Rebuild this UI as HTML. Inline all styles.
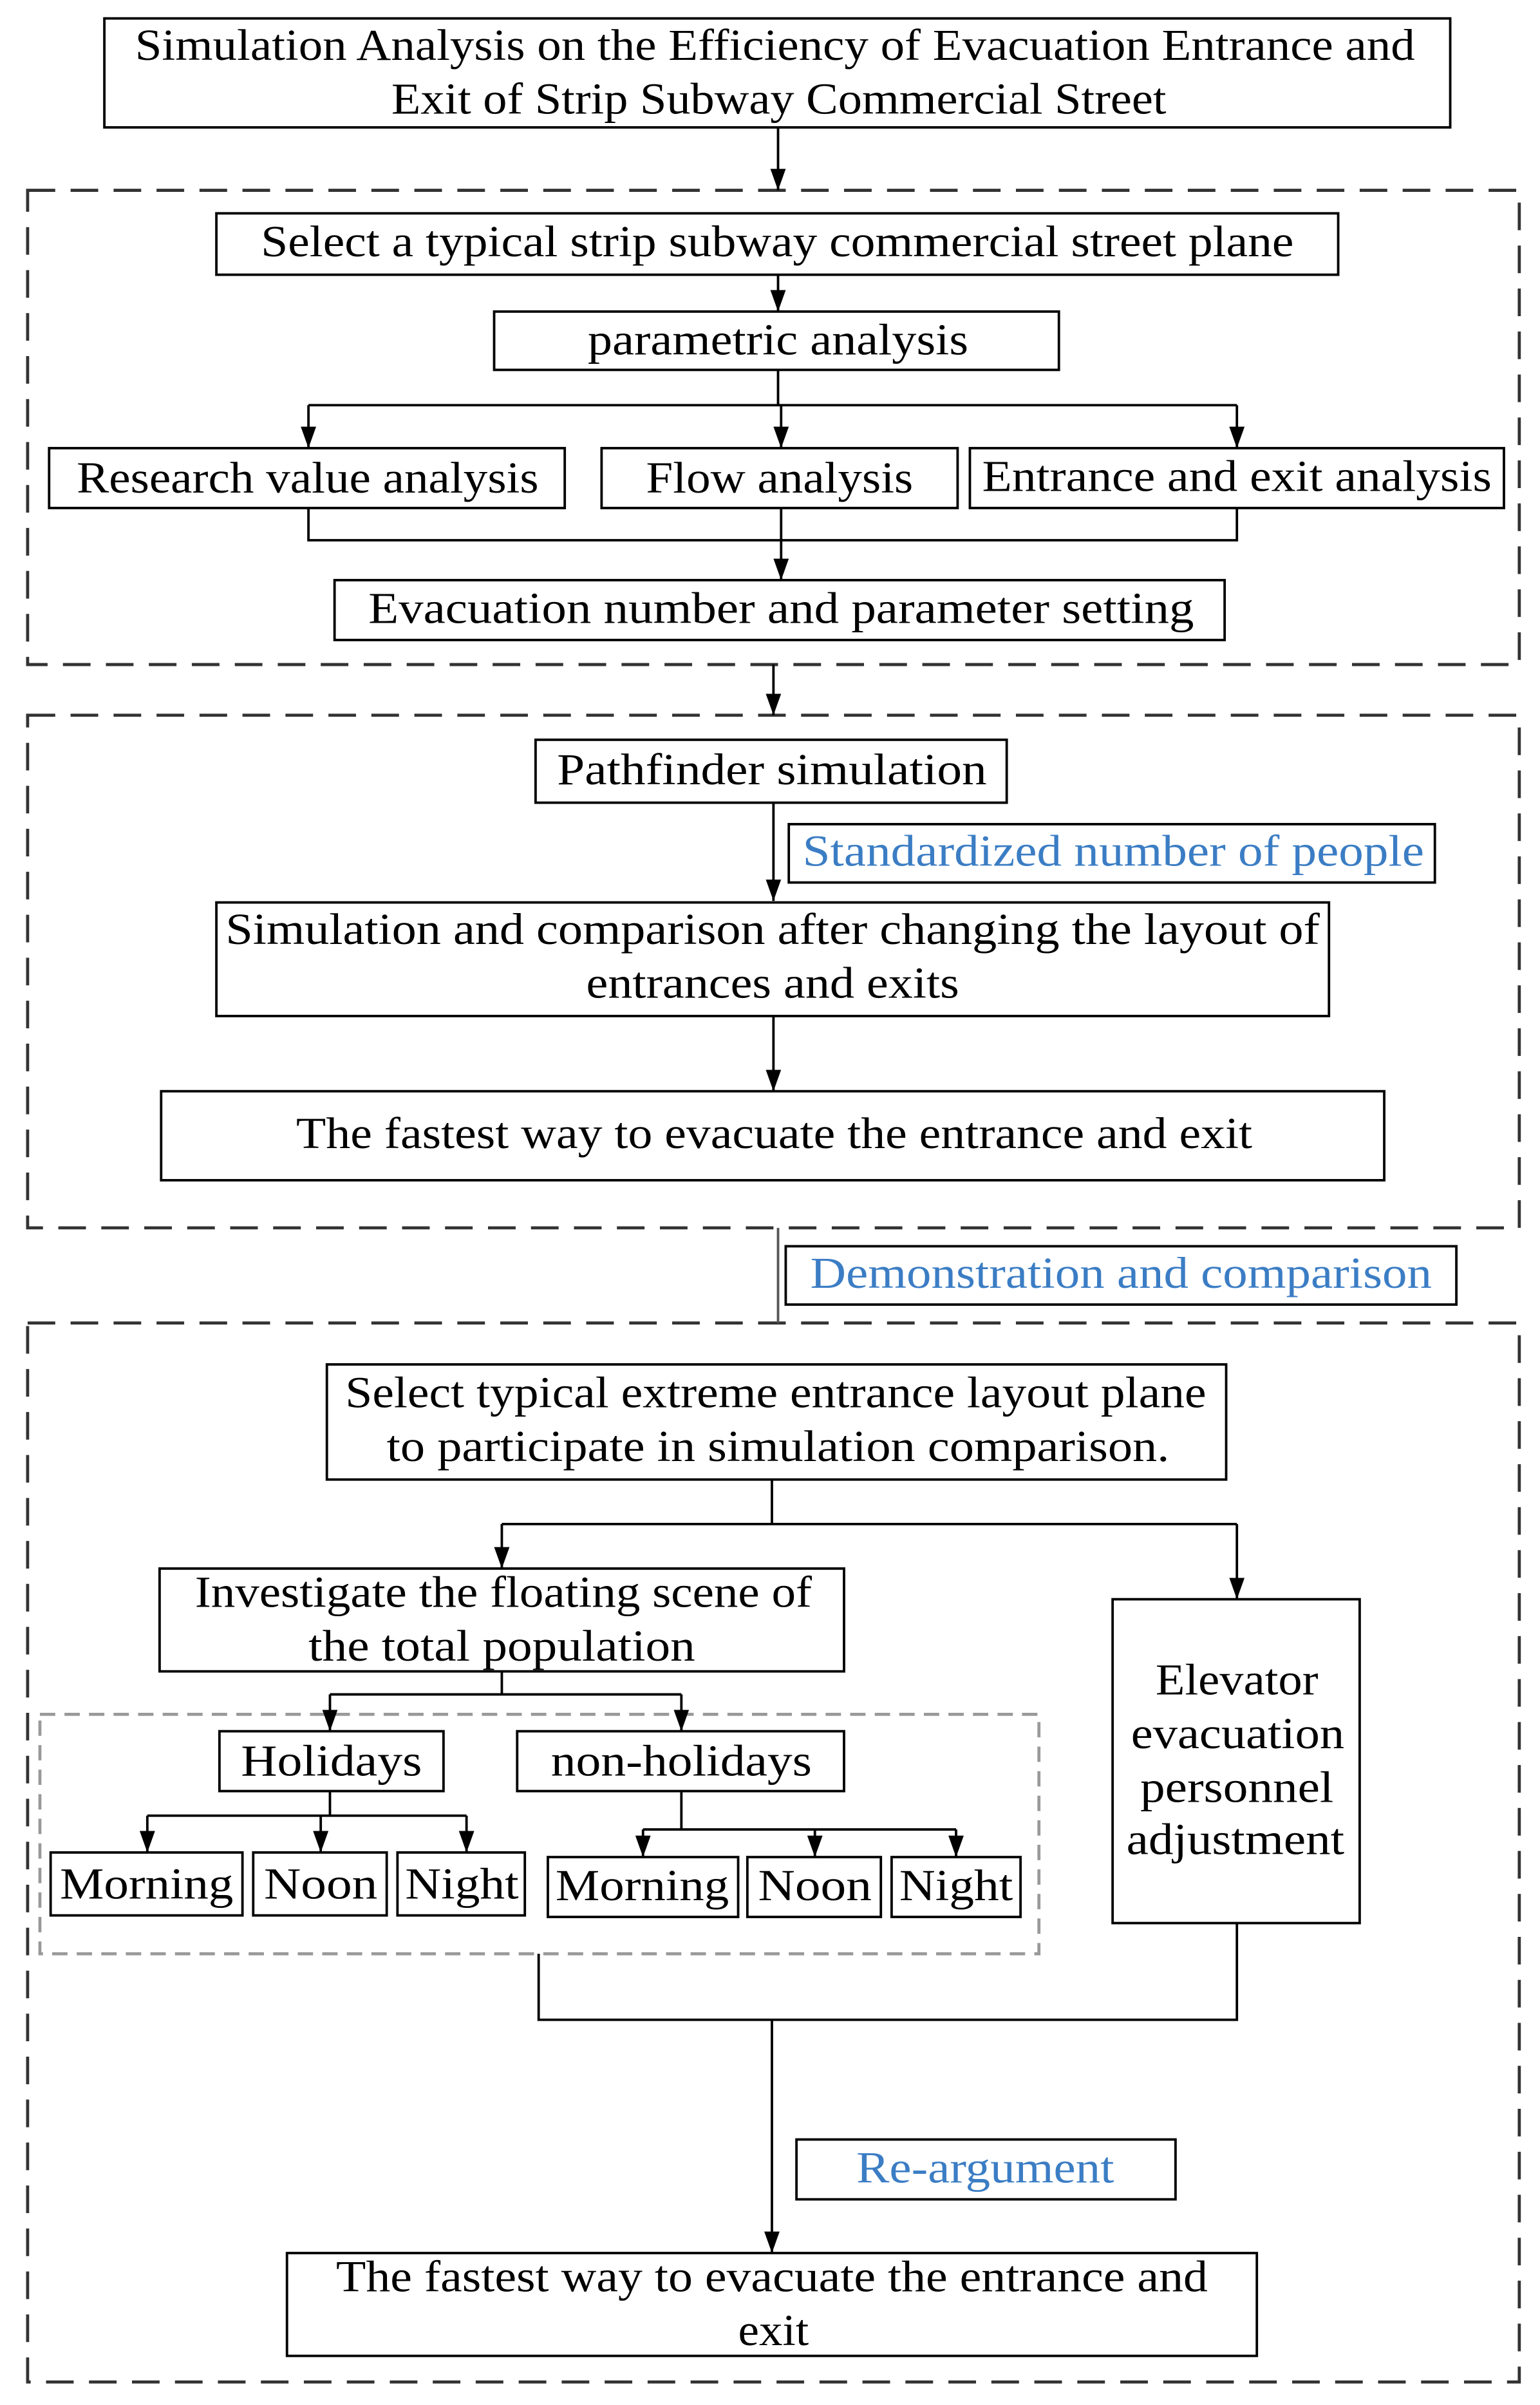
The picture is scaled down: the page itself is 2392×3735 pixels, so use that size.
<!DOCTYPE html>
<html><head><meta charset="utf-8"><style>html,body{margin:0;padding:0;background:#fff}svg{display:block}text{font-family:"Liberation Serif",serif;font-size:29px;fill:#000}.b{fill:#3b7dc4}</style></head><body>
<svg width="2392" height="3735" viewBox="0 0 1003.5 1567" preserveAspectRatio="none" xmlns="http://www.w3.org/2000/svg">
<defs>
<marker id="d" viewBox="0 0 10 14" markerWidth="10" markerHeight="14" refX="5" refY="14" orient="0" markerUnits="userSpaceOnUse"><path d="M0,0 L10,0 L5,14 z" fill="#000"/></marker></defs>
<g fill="none" stroke="#000" stroke-width="1.6">
<rect x="68" y="12" width="877" height="71"/>
<rect x="18" y="124" width="972" height="309" stroke="#333" stroke-width="2" stroke-dasharray="18,10"/>
<rect x="141" y="139" width="731" height="40"/>
<rect x="322" y="203" width="368" height="38"/>
<rect x="32" y="292" width="336" height="39"/>
<rect x="392" y="292" width="232" height="39"/>
<rect x="632" y="292" width="348" height="39"/>
<rect x="218" y="378" width="580" height="39"/>
<rect x="18" y="466" width="972" height="334" stroke="#333" stroke-width="2" stroke-dasharray="18,10"/>
<rect x="349" y="482" width="307" height="41"/>
<rect x="514" y="537" width="421" height="38"/>
<rect x="141" y="588" width="725" height="74"/>
<rect x="105" y="711" width="797" height="58"/>
<rect x="512" y="812" width="437" height="38"/>
<rect x="18" y="862" width="972" height="690" stroke="#333" stroke-width="2" stroke-dasharray="18,10"/>
<rect x="213" y="889" width="586" height="75"/>
<rect x="104" y="1022" width="446" height="67"/>
<rect x="725" y="1042" width="161" height="211"/>
<rect x="26" y="1117" width="651" height="156" stroke="#999" stroke-width="2" stroke-dasharray="10,6"/>
<rect x="143" y="1128" width="146" height="39"/>
<rect x="337" y="1128" width="213" height="39"/>
<rect x="33" y="1207" width="125" height="41"/>
<rect x="165" y="1207" width="87" height="41"/>
<rect x="259" y="1207" width="83" height="41"/>
<rect x="357" y="1210" width="124" height="39"/>
<rect x="487" y="1210" width="87" height="39"/>
<rect x="581" y="1210" width="84" height="39"/>
<rect x="519" y="1394" width="247" height="39"/>
<rect x="187" y="1468" width="632" height="67"/>
<path d="M507,83V124" marker-end="url(#d)"/>
<path d="M507,179V203" marker-end="url(#d)"/>
<path d="M507,241V264M201,264H806"/>
<path d="M201,264V292" marker-end="url(#d)"/>
<path d="M509,264V292" marker-end="url(#d)"/>
<path d="M806,264V292" marker-end="url(#d)"/>
<path d="M201,331V352H806V331"/>
<path d="M509,331V378" marker-end="url(#d)"/>
<path d="M504,433V466" marker-end="url(#d)"/>
<path d="M504,523V587" marker-end="url(#d)"/>
<path d="M504,662V711" marker-end="url(#d)"/>
<path d="M507,800V862" stroke="#555"/>
<path d="M503,964V993M327,993H806"/>
<path d="M327,993V1022" marker-end="url(#d)"/>
<path d="M806,993V1042" marker-end="url(#d)"/>
<path d="M327,1089V1104M215,1104H444"/>
<path d="M215,1104V1128" marker-end="url(#d)"/>
<path d="M444,1104V1128" marker-end="url(#d)"/>
<path d="M215,1167V1183M96,1183H304"/>
<path d="M96,1183V1207" marker-end="url(#d)"/>
<path d="M209,1183V1207" marker-end="url(#d)"/>
<path d="M304,1183V1207" marker-end="url(#d)"/>
<path d="M444,1167V1192M419,1192H623"/>
<path d="M419,1192V1210" marker-end="url(#d)"/>
<path d="M531,1192V1210" marker-end="url(#d)"/>
<path d="M623,1192V1210" marker-end="url(#d)"/>
<path d="M351,1273V1316H806V1253"/>
<path d="M503,1316V1468" marker-end="url(#d)"/>
</g>
<g>
<text x="88" y="39" textLength="834" lengthAdjust="spacingAndGlyphs">Simulation Analysis on the Efficiency of Evacuation Entrance and</text>
<text x="255" y="74" textLength="505" lengthAdjust="spacingAndGlyphs">Exit of Strip Subway Commercial Street</text>
<text x="170" y="167" textLength="673" lengthAdjust="spacingAndGlyphs">Select a typical strip subway commercial street plane</text>
<text x="383" y="231" textLength="248" lengthAdjust="spacingAndGlyphs">parametric analysis</text>
<text x="50" y="321" textLength="301" lengthAdjust="spacingAndGlyphs">Research value analysis</text>
<text x="421" y="321" textLength="174" lengthAdjust="spacingAndGlyphs">Flow analysis</text>
<text x="640" y="320" textLength="332" lengthAdjust="spacingAndGlyphs">Entrance and exit analysis</text>
<text x="240" y="406" textLength="538" lengthAdjust="spacingAndGlyphs">Evacuation number and parameter setting</text>
<text x="363" y="511" textLength="280" lengthAdjust="spacingAndGlyphs">Pathfinder simulation</text>
<text class="b" x="523" y="564" textLength="405" lengthAdjust="spacingAndGlyphs">Standardized number of people</text>
<text x="147" y="615" textLength="713" lengthAdjust="spacingAndGlyphs">Simulation and comparison after changing the layout of</text>
<text x="382" y="650" textLength="243" lengthAdjust="spacingAndGlyphs">entrances and exits</text>
<text x="193" y="748" textLength="623" lengthAdjust="spacingAndGlyphs">The fastest way to evacuate the entrance and exit</text>
<text class="b" x="528" y="839" textLength="405" lengthAdjust="spacingAndGlyphs">Demonstration and comparison</text>
<text x="225" y="917" textLength="561" lengthAdjust="spacingAndGlyphs">Select typical extreme entrance layout plane</text>
<text x="252" y="952" textLength="510" lengthAdjust="spacingAndGlyphs">to participate in simulation comparison.</text>
<text x="127" y="1047" textLength="402" lengthAdjust="spacingAndGlyphs">Investigate the floating scene of</text>
<text x="201" y="1082" textLength="252" lengthAdjust="spacingAndGlyphs">the total population</text>
<text x="753" y="1104" textLength="106" lengthAdjust="spacingAndGlyphs">Elevator</text>
<text x="737" y="1139" textLength="139" lengthAdjust="spacingAndGlyphs">evacuation</text>
<text x="743" y="1174" textLength="126" lengthAdjust="spacingAndGlyphs">personnel</text>
<text x="734" y="1208" textLength="142" lengthAdjust="spacingAndGlyphs">adjustment</text>
<text x="157" y="1157" textLength="118" lengthAdjust="spacingAndGlyphs">Holidays</text>
<text x="359" y="1157" textLength="170" lengthAdjust="spacingAndGlyphs">non-holidays</text>
<text x="39" y="1237" textLength="113" lengthAdjust="spacingAndGlyphs">Morning</text>
<text x="172" y="1237" textLength="74" lengthAdjust="spacingAndGlyphs">Noon</text>
<text x="264" y="1237" textLength="74" lengthAdjust="spacingAndGlyphs">Night</text>
<text x="362" y="1238" textLength="113" lengthAdjust="spacingAndGlyphs">Morning</text>
<text x="494" y="1238" textLength="74" lengthAdjust="spacingAndGlyphs">Noon</text>
<text x="586" y="1238" textLength="74" lengthAdjust="spacingAndGlyphs">Night</text>
<text class="b" x="558" y="1422" textLength="168" lengthAdjust="spacingAndGlyphs">Re-argument</text>
<text x="219" y="1493" textLength="568" lengthAdjust="spacingAndGlyphs">The fastest way to evacuate the entrance and</text>
<text x="481" y="1528" textLength="46" lengthAdjust="spacingAndGlyphs">exit</text>
</g>
</svg>
</body></html>
